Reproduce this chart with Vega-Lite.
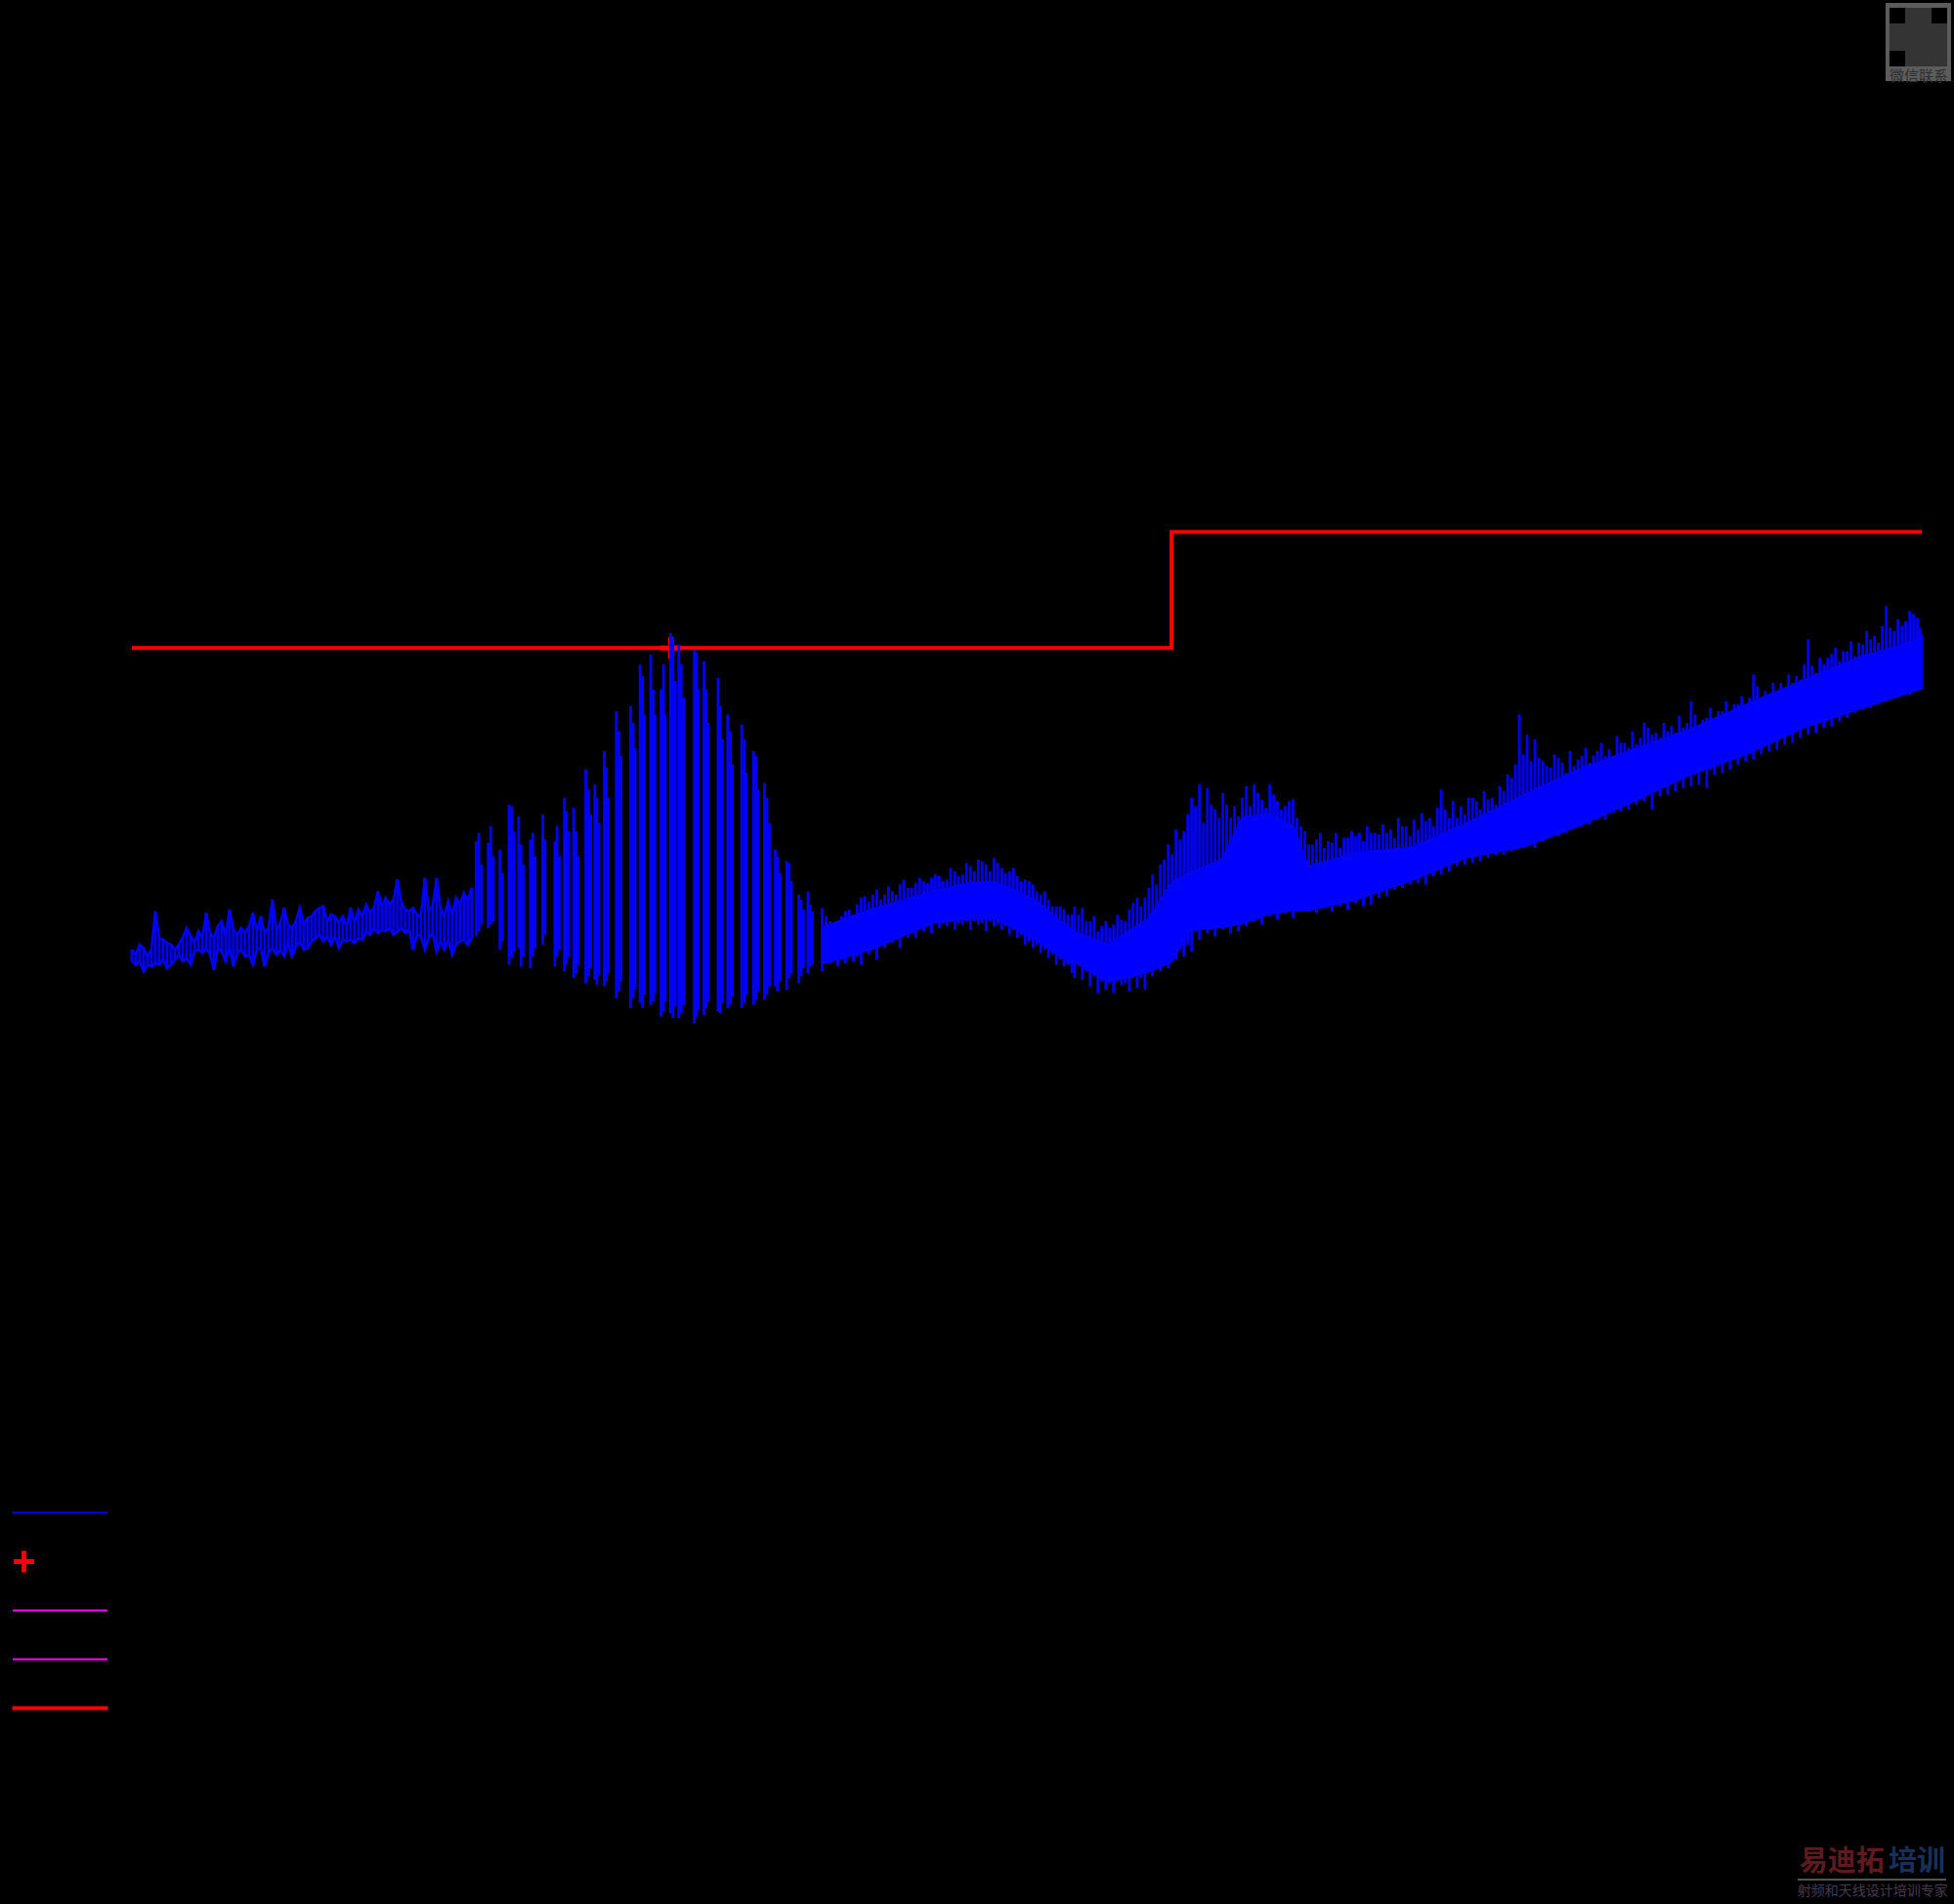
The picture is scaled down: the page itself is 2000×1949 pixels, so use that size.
{"$schema":"https://vega.github.io/schema/vega-lite/v6.json","autosize":{"type":"none"},"width":1832,"height":1195,"padding":{"left":135,"top":151,"right":33,"bottom":603},"background":"#000000","config":{"view":{"stroke":null},"font":"Liberation Sans","legend":{"labelFont":"Liberation Sans","labelFontSize":45,"labelColor":"#000000","labelLimit":1400,"padding":0,"rowPadding":4,"labelOffset":42}},"datasets":{"series":[{"series":"MES  tuz06a2_h"},{"series":"MES  tuz06a2_h_f"},{"series":"MES  tuz06a1_h_f"},{"series":"MES  tuz06b2_h_f"},{"series":"LIM  CISPR11 Class B        Field Strength QP Limit"}],"limit":[{"f":30,"level":30},{"f":230,"level":30},{"f":230,"level":36.95},{"f":1000,"level":36.95}],"final":[{"f":86.2,"level":30}],"band":[{"f":116,"lo":11,"hi":13.3},{"f":128,"lo":11.9,"hi":14.4},{"f":144.7,"lo":13.5,"hi":15.5},{"f":155.6,"lo":13.7,"hi":16},{"f":163,"lo":13.7,"hi":16},{"f":175.8,"lo":12.5,"hi":15},{"f":189,"lo":11,"hi":13.2},{"f":190.2,"lo":11.1,"hi":13.05},{"f":203,"lo":9.93,"hi":12.27},{"f":219.5,"lo":10.5,"hi":13.8},{"f":230,"lo":11.1,"hi":16},{"f":239,"lo":13.05,"hi":16.6},{"f":253.5,"lo":13.2,"hi":17.35},{"f":264,"lo":13.4,"hi":19.9},{"f":279,"lo":14,"hi":20.08},{"f":292.6,"lo":14.2,"hi":19.3},{"f":301,"lo":14.2,"hi":16.96},{"f":328,"lo":14.8,"hi":17.7},{"f":368,"lo":16,"hi":18.1},{"f":409,"lo":17.35,"hi":19.5},{"f":459,"lo":18.03,"hi":21.25},{"f":512,"lo":19.3,"hi":22.8},{"f":571,"lo":20.8,"hi":24},{"f":637,"lo":22.4,"hi":25.2},{"f":711,"lo":23.6,"hi":26.7},{"f":793,"lo":25.16,"hi":28.1},{"f":886,"lo":26.3,"hi":29.5},{"f":1000,"lo":27.5,"hi":30.6}],"trace":[{"f":30.00,"lo":11.2,"hi":11.9},{"f":30.23,"lo":11.0,"hi":11.6},{"f":30.46,"lo":11.2,"hi":12.2},{"f":30.70,"lo":10.6,"hi":12.0},{"f":30.93,"lo":11.0,"hi":11.5},{"f":31.17,"lo":10.9,"hi":11.9},{"f":31.41,"lo":11.1,"hi":14.2},{"f":31.65,"lo":11.0,"hi":12.6},{"f":31.89,"lo":11.3,"hi":12.5},{"f":32.14,"lo":10.8,"hi":12.3},{"f":32.39,"lo":11.0,"hi":12.2},{"f":32.64,"lo":11.3,"hi":11.9},{"f":32.89,"lo":11.6,"hi":12.2},{"f":33.14,"lo":11.2,"hi":12.6},{"f":33.40,"lo":11.4,"hi":13.2},{"f":33.66,"lo":11.0,"hi":12.7},{"f":33.92,"lo":11.8,"hi":12.3},{"f":34.18,"lo":11.9,"hi":13.0},{"f":34.44,"lo":11.7,"hi":12.6},{"f":34.70,"lo":12.0,"hi":14.1},{"f":34.96,"lo":11.6,"hi":12.9},{"f":35.23,"lo":10.7,"hi":12.6},{"f":35.50,"lo":12.0,"hi":13.3},{"f":35.77,"lo":11.8,"hi":13.6},{"f":36.05,"lo":11.2,"hi":12.7},{"f":36.32,"lo":12.1,"hi":14.3},{"f":36.60,"lo":10.9,"hi":13.1},{"f":36.88,"lo":11.7,"hi":12.8},{"f":37.17,"lo":11.9,"hi":13.2},{"f":37.45,"lo":11.5,"hi":12.9},{"f":37.74,"lo":11.6,"hi":13.3},{"f":38.03,"lo":11.0,"hi":14.1},{"f":38.32,"lo":11.9,"hi":13.0},{"f":38.62,"lo":12.0,"hi":13.9},{"f":38.91,"lo":10.9,"hi":12.9},{"f":39.21,"lo":11.7,"hi":13.2},{"f":39.51,"lo":12.0,"hi":14.9},{"f":39.82,"lo":11.6,"hi":13.0},{"f":40.12,"lo":11.9,"hi":13.5},{"f":40.43,"lo":11.5,"hi":14.4},{"f":40.74,"lo":12.3,"hi":13.4},{"f":41.05,"lo":11.5,"hi":13.2},{"f":41.37,"lo":12.1,"hi":13.6},{"f":41.69,"lo":12.4,"hi":14.4},{"f":42.01,"lo":11.9,"hi":13.4},{"f":42.33,"lo":12.0,"hi":13.8},{"f":42.66,"lo":12.4,"hi":13.9},{"f":42.98,"lo":12.6,"hi":14.2},{"f":43.31,"lo":12.8,"hi":14.4},{"f":43.65,"lo":12.4,"hi":14.5},{"f":43.98,"lo":12.7,"hi":13.6},{"f":44.32,"lo":12.2,"hi":14.0},{"f":44.66,"lo":12.7,"hi":13.9},{"f":45.00,"lo":12.0,"hi":13.5},{"f":45.35,"lo":12.5,"hi":13.9},{"f":45.70,"lo":12.4,"hi":13.3},{"f":46.05,"lo":12.5,"hi":14.4},{"f":46.40,"lo":12.3,"hi":13.5},{"f":46.76,"lo":12.6,"hi":14.3},{"f":47.12,"lo":12.5,"hi":13.9},{"f":47.48,"lo":13.0,"hi":14.6},{"f":47.84,"lo":12.8,"hi":14.1},{"f":48.21,"lo":13.2,"hi":14.4},{"f":48.58,"lo":12.9,"hi":15.4},{"f":48.96,"lo":13.1,"hi":14.5},{"f":49.33,"lo":13.0,"hi":15.0},{"f":49.71,"lo":13.2,"hi":14.6},{"f":50.09,"lo":12.8,"hi":14.9},{"f":50.48,"lo":13.0,"hi":16.1},{"f":50.87,"lo":13.2,"hi":14.7},{"f":51.26,"lo":12.9,"hi":14.3},{"f":51.65,"lo":13.1,"hi":14.2},{"f":52.05,"lo":11.9,"hi":14.4},{"f":52.45,"lo":12.8,"hi":14.0},{"f":52.85,"lo":12.7,"hi":13.9},{"f":53.26,"lo":11.9,"hi":16.2},{"f":53.67,"lo":12.6,"hi":14.3},{"f":54.08,"lo":12.9,"hi":14.5},{"f":54.50,"lo":11.8,"hi":16.2},{"f":54.91,"lo":12.4,"hi":14.4},{"f":55.33,"lo":11.9,"hi":13.9},{"f":55.76,"lo":12.5,"hi":14.8},{"f":56.19,"lo":11.6,"hi":14.0},{"f":56.62,"lo":12.2,"hi":15.0},{"f":57.05,"lo":12.4,"hi":14.6},{"f":57.49,"lo":12.5,"hi":15.3},{"f":57.93,"lo":12.2,"hi":14.8},{"f":58.38,"lo":12.6,"hi":15.6},{"f":58.9,"lo":12.7,"hi":18.4},{"f":59.2,"lo":13,"hi":18.9},{"f":59.5,"lo":13.4,"hi":17},{"f":60.3,"lo":13.2,"hi":18.3},{"f":60.6,"lo":13.4,"hi":19.3},{"f":60.9,"lo":13.6,"hi":17.5},{"f":61.7,"lo":11.9,"hi":17.9},{"f":62.0,"lo":12.4,"hi":16.5},{"f":62.8,"lo":11,"hi":20.6},{"f":63.1,"lo":11.4,"hi":20.5},{"f":63.4,"lo":11.8,"hi":19},{"f":64,"lo":12,"hi":19.9},{"f":64.3,"lo":10.9,"hi":18.2},{"f":64.6,"lo":11.5,"hi":17},{"f":65.5,"lo":10.8,"hi":18.5},{"f":65.8,"lo":11.5,"hi":18.9},{"f":66.1,"lo":12,"hi":17.5},{"f":67.1,"lo":12.2,"hi":20},{"f":67.4,"lo":12.8,"hi":18.5},{"f":68.7,"lo":10.9,"hi":18.4},{"f":69,"lo":11.5,"hi":19.3},{"f":69.3,"lo":11.9,"hi":17.5},{"f":70,"lo":10.6,"hi":21},{"f":70.3,"lo":11,"hi":20.2},{"f":70.6,"lo":11.5,"hi":19},{"f":71.3,"lo":10.2,"hi":20.4},{"f":71.6,"lo":10.5,"hi":19},{"f":71.9,"lo":11,"hi":17.5},{"f":73,"lo":9.9,"hi":22.7},{"f":73.4,"lo":10.3,"hi":21.5},{"f":73.7,"lo":10.8,"hi":20},{"f":74.3,"lo":10.1,"hi":21.8},{"f":74.6,"lo":9.8,"hi":21},{"f":74.9,"lo":10.4,"hi":19.5},{"f":75.7,"lo":9.7,"hi":23.8},{"f":76,"lo":10,"hi":22.8},{"f":76.3,"lo":10.5,"hi":21},{"f":77.5,"lo":9,"hi":26.2},{"f":77.9,"lo":9.4,"hi":25},{"f":78.2,"lo":10,"hi":23.5},{"f":79.7,"lo":8.4,"hi":26.5},{"f":80.1,"lo":9,"hi":25.5},{"f":80.4,"lo":9.5,"hi":24},{"f":81.2,"lo":8.7,"hi":29},{"f":81.6,"lo":8.4,"hi":28.3},{"f":81.9,"lo":9.2,"hi":26},{"f":82.9,"lo":8.6,"hi":29.6},{"f":83.3,"lo":8.8,"hi":27.5},{"f":83.6,"lo":9.3,"hi":26},{"f":84.6,"lo":7.9,"hi":27.5},{"f":85,"lo":8.2,"hi":29},{"f":85.3,"lo":8.8,"hi":26},{"f":86.2,"lo":8.1,"hi":30.9},{"f":86.6,"lo":7.8,"hi":30.6},{"f":87.0,"lo":8.5,"hi":28},{"f":87.6,"lo":7.8,"hi":30.2},{"f":88,"lo":8.1,"hi":29},{"f":88.4,"lo":8.6,"hi":27},{"f":90.3,"lo":7.5,"hi":29.9},{"f":90.7,"lo":7.9,"hi":29.7},{"f":91.0,"lo":8.3,"hi":27.5},{"f":92,"lo":8,"hi":29.2},{"f":92.4,"lo":8.4,"hi":27.5},{"f":92.8,"lo":8.8,"hi":25.5},{"f":94.6,"lo":8.2,"hi":28.2},{"f":95,"lo":8.1,"hi":26.5},{"f":95.4,"lo":8.7,"hi":24.5},{"f":96.4,"lo":8.4,"hi":26},{"f":96.9,"lo":8.6,"hi":25},{"f":97.3,"lo":9.1,"hi":23},{"f":99.1,"lo":8.4,"hi":25.4},{"f":99.6,"lo":8.7,"hi":24.5},{"f":100,"lo":9.2,"hi":22.5},{"f":101.4,"lo":8.6,"hi":23.8},{"f":101.9,"lo":8.9,"hi":23.5},{"f":102.3,"lo":9.4,"hi":21.5},{"f":103.6,"lo":8.9,"hi":21.9},{"f":104.1,"lo":9.2,"hi":21},{"f":104.6,"lo":9.7,"hi":19.5},{"f":105.8,"lo":9.7,"hi":17.9},{"f":106.3,"lo":9.4,"hi":17.5},{"f":106.8,"lo":10,"hi":16.5},{"f":108.2,"lo":9.5,"hi":17.2},{"f":108.7,"lo":10.2,"hi":17.1},{"f":109.2,"lo":10.5,"hi":16},{"f":110.8,"lo":9.9,"hi":15.2},{"f":111.3,"lo":10.3,"hi":14.9},{"f":111.8,"lo":10.8,"hi":14.3},{"f":112.8,"lo":10.5,"hi":15.4},{"f":113.3,"lo":10.9,"hi":14.6},{"f":113.8,"lo":11,"hi":14.2},{"f":116.0,"lo":10.6,"hi":14.4},{"f":117.8,"lo":11.1,"hi":13.6},{"f":119.6,"lo":10.9,"hi":13.4},{"f":121.4,"lo":11.1,"hi":14.2},{"f":123.3,"lo":11.2,"hi":14.0},{"f":125.2,"lo":11.0,"hi":15.0},{"f":127.1,"lo":11.6,"hi":14.8},{"f":129.1,"lo":11.3,"hi":15.5},{"f":131.1,"lo":12.0,"hi":15.2},{"f":133.1,"lo":12.3,"hi":15.4},{"f":135.1,"lo":12.0,"hi":15.8},{"f":137.2,"lo":12.6,"hi":15.6},{"f":139.3,"lo":12.6,"hi":15.9},{"f":141.5,"lo":13.0,"hi":16.0},{"f":143.7,"lo":12.9,"hi":16.2},{"f":145.9,"lo":13.2,"hi":16.3},{"f":148.1,"lo":13.3,"hi":16.1},{"f":150.4,"lo":13.1,"hi":16.6},{"f":152.7,"lo":13.4,"hi":16.4},{"f":155.1,"lo":13.1,"hi":16.9},{"f":157.5,"lo":13.4,"hi":17.3},{"f":159.9,"lo":13.0,"hi":17.0},{"f":162.4,"lo":13.3,"hi":17.4},{"f":164.9,"lo":13.1,"hi":16.8},{"f":167.4,"lo":12.8,"hi":16.6},{"f":170.0,"lo":12.6,"hi":16.3},{"f":172.6,"lo":12.2,"hi":16.1},{"f":175.3,"lo":12.0,"hi":15.8},{"f":178.0,"lo":11.7,"hi":15.2},{"f":180.7,"lo":11.4,"hi":14.9},{"f":183.5,"lo":11.0,"hi":14.5},{"f":186.3,"lo":10.9,"hi":14.3},{"f":189.2,"lo":10.5,"hi":14.0},{"f":190.2,"lo":10.2,"hi":14.5},{"f":193.1,"lo":10.1,"hi":14.4},{"f":196.1,"lo":9.7,"hi":13.6},{"f":199.1,"lo":9.3,"hi":13.0},{"f":202.2,"lo":9.5,"hi":13.6},{"f":205.3,"lo":9.3,"hi":13.4},{"f":208.5,"lo":9.8,"hi":13.7},{"f":211.7,"lo":9.4,"hi":14.3},{"f":215.0,"lo":9.6,"hi":15.0},{"f":218.3,"lo":9.5,"hi":15.0},{"f":221.6,"lo":10.3,"hi":16.4},{"f":225.0,"lo":10.6,"hi":17.0},{"f":228.5,"lo":10.8,"hi":18.2},{"f":232.0,"lo":11.3,"hi":19.1},{"f":235.6,"lo":11.5,"hi":19.0},{"f":239.2,"lo":11.8,"hi":21.0},{"f":242.9,"lo":12.5,"hi":21.8},{"f":246.7,"lo":12.9,"hi":21.6},{"f":250.5,"lo":12.7,"hi":20.3},{"f":254.3,"lo":13.1,"hi":21.3},{"f":258.2,"lo":12.9,"hi":19.8},{"f":262.2,"lo":13.0,"hi":19.9},{"f":266.3,"lo":13.3,"hi":21.7},{"f":270.4,"lo":13.6,"hi":21.8},{"f":274.5,"lo":13.4,"hi":20.9},{"f":278.8,"lo":13.9,"hi":21.8},{"f":283.0,"lo":13.7,"hi":20.8},{"f":287.4,"lo":14.1,"hi":20.5},{"f":291.8,"lo":13.8,"hi":20.9},{"f":296.3,"lo":14.2,"hi":19.3},{"f":300.9,"lo":14.2,"hi":18.2},{"f":305.5,"lo":14.1,"hi":18.5},{"f":310.2,"lo":14.4,"hi":18.0},{"f":315.0,"lo":14.2,"hi":18.3},{"f":319.9,"lo":14.5,"hi":18.0},{"f":324.8,"lo":14.3,"hi":18.6},{"f":329.8,"lo":14.7,"hi":18.7},{"f":334.9,"lo":14.5,"hi":18.4},{"f":340.0,"lo":14.6,"hi":18.9},{"f":345.3,"lo":15.0,"hi":18.8},{"f":350.6,"lo":15.1,"hi":18.9},{"f":356.0,"lo":15.5,"hi":18.6},{"f":361.5,"lo":15.6,"hi":19.3},{"f":367.0,"lo":15.8,"hi":18.7},{"f":372.7,"lo":15.9,"hi":19.1},{"f":378.4,"lo":15.8,"hi":19.6},{"f":384.2,"lo":16.3,"hi":19.3},{"f":390.1,"lo":16.4,"hi":21.5},{"f":396.2,"lo":16.6,"hi":19.8},{"f":402.3,"lo":16.9,"hi":19.8},{"f":408.5,"lo":17.0,"hi":20.0},{"f":414.8,"lo":17.1,"hi":21.0},{"f":421.1,"lo":17.2,"hi":20.3},{"f":427.6,"lo":17.4,"hi":20.9},{"f":434.2,"lo":17.6,"hi":20.6},{"f":440.9,"lo":17.6,"hi":21.4},{"f":447.7,"lo":17.8,"hi":22.2},{"f":454.6,"lo":18.0,"hi":26.0},{"f":461.6,"lo":18.2,"hi":24.8},{"f":468.7,"lo":18.0,"hi":24.5},{"f":476.0,"lo":18.4,"hi":23.2},{"f":483.3,"lo":18.6,"hi":22.8},{"f":490.7,"lo":18.7,"hi":23.4},{"f":498.3,"lo":18.9,"hi":22.5},{"f":506.0,"lo":19.2,"hi":22.9},{"f":513.8,"lo":19.3,"hi":23.5},{"f":521.7,"lo":19.4,"hi":23.1},{"f":529.7,"lo":19.7,"hi":23.8},{"f":537.9,"lo":19.7,"hi":23.5},{"f":546.2,"lo":20.1,"hi":23.4},{"f":554.6,"lo":20.2,"hi":24.3},{"f":563.1,"lo":20.3,"hi":24.0},{"f":571.8,"lo":20.6,"hi":24.2},{"f":580.6,"lo":20.8,"hi":25.5},{"f":589.6,"lo":20.3,"hi":24.8},{"f":598.7,"lo":21.1,"hi":24.6},{"f":607.9,"lo":21.2,"hi":25.0},{"f":617.2,"lo":21.4,"hi":24.9},{"f":626.7,"lo":21.6,"hi":25.2},{"f":636.4,"lo":21.7,"hi":26.8},{"f":646.2,"lo":21.8,"hi":25.3},{"f":656.2,"lo":21.6,"hi":25.8},{"f":666.3,"lo":22.4,"hi":25.7},{"f":676.6,"lo":22.5,"hi":26.2},{"f":687.0,"lo":22.7,"hi":26.1},{"f":697.6,"lo":23.0,"hi":26.6},{"f":708.3,"lo":23.2,"hi":26.5},{"f":719.2,"lo":23.3,"hi":28.4},{"f":730.3,"lo":23.6,"hi":26.7},{"f":741.6,"lo":23.8,"hi":27.2},{"f":753.0,"lo":23.9,"hi":27.4},{"f":764.6,"lo":24.2,"hi":27.6},{"f":776.4,"lo":24.3,"hi":27.9},{"f":788.3,"lo":24.6,"hi":28.1},{"f":800.5,"lo":24.8,"hi":30.5},{"f":812.8,"lo":24.9,"hi":28.5},{"f":825.4,"lo":25.2,"hi":29.0},{"f":838.1,"lo":25.3,"hi":29.6},{"f":851.0,"lo":25.6,"hi":29.2},{"f":864.1,"lo":25.8,"hi":29.8},{"f":877.4,"lo":26.1,"hi":29.5},{"f":891.0,"lo":26.3,"hi":30.2},{"f":904.7,"lo":26.4,"hi":30.5},{"f":918.6,"lo":26.6,"hi":30.3},{"f":932.8,"lo":26.8,"hi":32.5},{"f":947.2,"lo":27.0,"hi":31.0},{"f":961.8,"lo":27.2,"hi":31.3},{"f":976.6,"lo":27.2,"hi":32.2},{"f":991.7,"lo":27.5,"hi":31.8},{"f":999.5,"lo":27.5,"hi":30.8},{"f":116.9,"lo":11.4,"hi":13.9},{"f":118.7,"lo":11.3,"hi":13.5},{"f":120.5,"lo":11.3,"hi":13.9},{"f":122.3,"lo":11.5,"hi":14.3},{"f":124.2,"lo":11.5,"hi":14.6},{"f":126.1,"lo":11.8,"hi":15.1},{"f":128.1,"lo":11.9,"hi":15.2},{"f":130.1,"lo":12.2,"hi":14.9},{"f":132.1,"lo":12.6,"hi":15.7},{"f":134.1,"lo":12.5,"hi":15.2},{"f":136.1,"lo":12.9,"hi":16.1},{"f":138.2,"lo":12.9,"hi":15.6},{"f":140.4,"lo":13.2,"hi":16.2},{"f":142.6,"lo":13.3,"hi":15.9},{"f":144.8,"lo":13.5,"hi":16.4},{"f":147.0,"lo":13.5,"hi":16},{"f":149.2,"lo":13.6,"hi":16.8},{"f":151.5,"lo":13.5,"hi":16.3},{"f":153.9,"lo":13.6,"hi":17.1},{"f":156.3,"lo":13.6,"hi":16.6},{"f":158.7,"lo":13.5,"hi":17.2},{"f":161.1,"lo":13.6,"hi":16.6},{"f":163.6,"lo":13.4,"hi":17.1},{"f":166.1,"lo":13.3,"hi":16.5},{"f":168.7,"lo":13.1,"hi":16.8},{"f":171.3,"lo":12.8,"hi":16},{"f":174.0,"lo":12.4,"hi":16},{"f":176.6,"lo":12.2,"hi":15.4},{"f":179.4,"lo":11.9,"hi":15.4},{"f":182.1,"lo":11.6,"hi":14.5},{"f":184.9,"lo":11.3,"hi":14.5},{"f":187.7,"lo":11.0,"hi":14},{"f":191.7,"lo":11,"hi":14},{"f":194.6,"lo":10.6,"hi":13.6},{"f":197.6,"lo":10.3,"hi":13.9},{"f":200.6,"lo":10,"hi":13.3},{"f":203.7,"lo":9.9,"hi":13.2},{"f":206.9,"lo":10,"hi":14},{"f":210.1,"lo":9.9,"hi":13.6},{"f":213.3,"lo":10.2,"hi":14.7},{"f":216.6,"lo":10.2,"hi":14.5},{"f":220.0,"lo":10.7,"hi":15.6},{"f":223.3,"lo":11,"hi":15.8},{"f":226.7,"lo":11.2,"hi":17.3},{"f":230.2,"lo":11.7,"hi":17.6},{"f":233.8,"lo":11.9,"hi":18.5},{"f":237.4,"lo":12.2,"hi":20},{"f":241.0,"lo":13,"hi":20.5},{"f":244.8,"lo":13.2,"hi":19.5},{"f":248.6,"lo":13.3,"hi":20.6},{"f":252.4,"lo":13.4,"hi":19.8},{"f":256.2,"lo":13.6,"hi":20.6},{"f":260.2,"lo":13.4,"hi":20.5},{"f":264.2,"lo":13.7,"hi":21},{"f":268.3,"lo":13.8,"hi":20.5},{"f":272.4,"lo":14,"hi":21.3},{"f":276.6,"lo":14.2,"hi":20.4},{"f":280.9,"lo":14,"hi":21.2},{"f":285.2,"lo":14.4,"hi":20.3},{"f":289.6,"lo":14.3,"hi":20.8},{"f":294.0,"lo":14.6,"hi":19.8},{"f":298.6,"lo":14.5,"hi":19},{"f":303.2,"lo":14.6,"hi":18.2},{"f":307.8,"lo":14.5,"hi":18.9},{"f":312.6,"lo":14.8,"hi":18.4},{"f":317.4,"lo":14.7,"hi":18.9},{"f":322.4,"lo":15,"hi":18.6},{"f":327.3,"lo":15,"hi":19},{"f":332.3,"lo":15.1,"hi":18.9},{"f":337.4,"lo":15.2,"hi":19.3},{"f":342.6,"lo":15.4,"hi":18.9},{"f":348.0,"lo":15.6,"hi":19.4},{"f":353.3,"lo":15.7,"hi":19.1},{"f":358.7,"lo":16,"hi":19.8},{"f":364.2,"lo":16.1,"hi":19.3},{"f":369.8,"lo":16.4,"hi":19.7},{"f":375.5,"lo":16.3,"hi":20.1},{"f":381.3,"lo":16.7,"hi":19.8},{"f":387.1,"lo":16.9,"hi":20.4},{"f":393.1,"lo":17.1,"hi":20.3},{"f":399.2,"lo":17.4,"hi":20.8},{"f":405.4,"lo":17.3,"hi":20.5},{"f":411.6,"lo":17.6,"hi":21},{"f":418.0,"lo":17.7,"hi":20.8},{"f":424.3,"lo":17.9,"hi":21.4},{"f":430.9,"lo":18,"hi":21},{"f":437.5,"lo":18.2,"hi":21.7},{"f":444.3,"lo":18.3,"hi":22.4},{"f":451.1,"lo":18.4,"hi":23},{"f":458.1,"lo":18.6,"hi":23.6},{"f":465.1,"lo":18.8,"hi":23.2},{"f":472.3,"lo":18.9,"hi":23.4},{"f":479.6,"lo":19,"hi":22.9},{"f":487.0,"lo":19.2,"hi":23.6},{"f":494.5,"lo":19.4,"hi":23.1},{"f":502.1,"lo":19.6,"hi":23.8},{"f":509.9,"lo":19.8,"hi":23.3},{"f":517.7,"lo":19.9,"hi":24},{"f":525.7,"lo":20.1,"hi":23.5},{"f":533.8,"lo":20.3,"hi":24.3},{"f":542.0,"lo":20.5,"hi":23.9},{"f":550.4,"lo":20.7,"hi":24.7},{"f":558.8,"lo":20.8,"hi":24.3},{"f":567.4,"lo":21,"hi":25},{"f":576.2,"lo":21.2,"hi":24.6},{"f":585.1,"lo":21.4,"hi":25.2},{"f":594.1,"lo":21.5,"hi":24.9},{"f":603.3,"lo":21.7,"hi":25.5},{"f":612.5,"lo":21.9,"hi":25.3},{"f":621.9,"lo":22,"hi":25.9},{"f":631.5,"lo":22.3,"hi":25.5},{"f":641.3,"lo":22.4,"hi":26},{"f":651.2,"lo":22.6,"hi":25.7},{"f":661.2,"lo":22.7,"hi":26.4},{"f":671.4,"lo":22.9,"hi":26.2},{"f":681.8,"lo":23.2,"hi":26.8},{"f":692.3,"lo":23.4,"hi":26.6},{"f":702.9,"lo":23.6,"hi":27.1},{"f":713.7,"lo":23.8,"hi":27},{"f":724.7,"lo":24,"hi":27.7},{"f":735.9,"lo":24.2,"hi":27.4},{"f":747.3,"lo":24.4,"hi":27.9},{"f":758.8,"lo":24.6,"hi":27.9},{"f":770.5,"lo":24.8,"hi":28.4},{"f":782.3,"lo":25,"hi":28.3},{"f":794.4,"lo":25.2,"hi":29},{"f":806.6,"lo":25.4,"hi":28.9},{"f":819.1,"lo":25.6,"hi":29.4},{"f":831.7,"lo":25.8,"hi":29.4},{"f":844.5,"lo":26,"hi":30},{"f":857.5,"lo":26.2,"hi":29.8},{"f":870.7,"lo":26.4,"hi":30.4},{"f":884.2,"lo":26.6,"hi":30.3},{"f":897.8,"lo":26.8,"hi":31},{"f":911.6,"lo":27,"hi":30.7},{"f":925.7,"lo":27.1,"hi":31.3},{"f":940.0,"lo":27.3,"hi":31.2},{"f":954.5,"lo":27.5,"hi":31.7},{"f":969.2,"lo":27.6,"hi":31.6},{"f":984.1,"lo":27.8,"hi":32},{"f":996,"lo":27.8,"hi":31.2}]},"layer":[{"data":{"name":"limit"},"mark":{"type":"line","color":"#ff0000","strokeWidth":4,"clip":false},"encoding":{"x":{"field":"f","type":"quantitative","scale":{"type":"log","domain":[30,1000],"nice":false},"axis":{"values":[30,50,70,100,200,300,500,700,1000],"labelExpr":"datum.value==1000?'1G':datum.value+'M'","title":"Frequency [Hz]","titleFont":"Liberation Sans","titleFontSize":45,"titleFontWeight":"normal","titleColor":"#000000","titleX":761,"titleY":107,"titleAlign":"center","titleBaseline":"alphabetic","labelFont":"Liberation Sans","labelFontSize":45,"labelColor":"#000000","labelAngle":0,"labelFlush":true,"labelOverlap":false,"labelOffset":-12,"labelPadding":18,"ticks":false,"domain":false,"grid":false}},"y":{"field":"level","type":"quantitative","scale":{"domain":[-10,60],"nice":false,"zero":false},"axis":{"values":[-10,0,10,20,30,40,50,60],"title":"Level [dBµV/m]","titleFont":"Liberation Sans","titleFontSize":45,"titleFontWeight":"normal","titleColor":"#000000","titleAngle":0,"titleAlign":"left","titleBaseline":"alphabetic","titleX":-65,"titleY":-71,"labelFont":"Liberation Sans","labelFontSize":45,"labelColor":"#000000","labelPadding":32,"ticks":false,"domain":false,"grid":false}}}},{"data":{"name":"final"},"mark":{"type":"point","shape":"M-1,0H1M0,-1V1","filled":false,"color":"#ff0000","size":484,"strokeWidth":5,"opacity":1},"encoding":{"x":{"field":"f","type":"quantitative","axis":null},"y":{"field":"level","type":"quantitative","axis":null}}},{"data":{"name":"band"},"mark":{"type":"area","color":"#0000ff","opacity":1},"encoding":{"x":{"field":"f","type":"quantitative","axis":null},"y":{"field":"lo","type":"quantitative","axis":null},"y2":{"field":"hi"}}},{"data":{"name":"trace"},"transform":[{"filter":"datum.f<58.5"}],"mark":{"type":"line","color":"#0000ff","strokeWidth":2.5},"encoding":{"x":{"field":"f","type":"quantitative","axis":null},"y":{"field":"lo","type":"quantitative","axis":null}}},{"data":{"name":"trace"},"transform":[{"filter":"datum.f<58.5"}],"mark":{"type":"line","color":"#0000ff","strokeWidth":2.5},"encoding":{"x":{"field":"f","type":"quantitative","axis":null},"y":{"field":"hi","type":"quantitative","axis":null}}},{"data":{"name":"trace"},"mark":{"type":"rule","color":"#0000ff","strokeWidth":2.8},"encoding":{"x":{"field":"f","type":"quantitative","axis":null},"y":{"field":"lo","type":"quantitative","axis":null},"y2":{"field":"hi"}}},{"data":{"name":"series"},"mark":{"type":"point","filled":false,"opacity":1},"encoding":{"x":{"field":"f","type":"quantitative","axis":null},"y":{"field":"level","type":"quantitative","axis":null},"stroke":{"field":"series","type":"nominal","sort":null,"scale":{"domain":["MES  tuz06a2_h","MES  tuz06a2_h_f","MES  tuz06a1_h_f","MES  tuz06b2_h_f","LIM  CISPR11 Class B        Field Strength QP Limit"],"range":["#0000ff","#ff0000","#ff00ff","#ff00ff","#ff0000"]},"legend":{"title":null,"orient":"none","legendX":-96,"legendY":1375,"symbolSize":1600,"labelFont":"Liberation Sans","labelFontSize":45,"labelLimit":1400,"labelOffset":42,"rowPadding":4,"padding":0}},"shape":{"field":"series","type":"nominal","sort":null,"scale":{"domain":["MES  tuz06a2_h","MES  tuz06a2_h_f","MES  tuz06a1_h_f","MES  tuz06b2_h_f","LIM  CISPR11 Class B        Field Strength QP Limit"],"range":["M-2.425,0H2.425","M-2.37,0H-1.32M-1.845,-0.55V0.55","M-2.425,0H2.425","M-2.425,0H2.425","M-2.45,0H2.45"]},"legend":{"title":null,"orient":"none","legendX":-96,"legendY":1375,"symbolSize":1600,"labelFont":"Liberation Sans","labelFontSize":45,"labelLimit":1400,"labelOffset":42,"rowPadding":4,"padding":0}},"strokeWidth":{"field":"series","type":"nominal","sort":null,"scale":{"type":"ordinal","domain":["MES  tuz06a2_h","MES  tuz06a2_h_f","MES  tuz06a1_h_f","MES  tuz06b2_h_f","LIM  CISPR11 Class B        Field Strength QP Limit"],"range":[2,5,2,2,4]},"legend":{"title":null,"orient":"none","legendX":-96,"legendY":1375,"symbolSize":1600,"labelFont":"Liberation Sans","labelFontSize":45,"labelLimit":1400,"labelOffset":42,"rowPadding":4,"padding":0}}}},{"data":{"values":[{"f":931.6,"f2":1059,"a":68.67,"b":63.98}]},"mark":{"type":"rect","color":"#5c5c5c"},"encoding":{"x":{"field":"f","type":"quantitative","axis":null},"x2":{"field":"f2"},"y":{"field":"a","type":"quantitative","axis":null},"y2":{"field":"b"}}},{"data":{"values":[{"f":938.7,"f2":1051,"a":68.38,"b":64.86}]},"mark":{"type":"rect","color":"#343434"},"encoding":{"x":{"field":"f","type":"quantitative","axis":null},"x2":{"field":"f2"},"y":{"field":"a","type":"quantitative","axis":null},"y2":{"field":"b"}}},{"data":{"values":[{"f":938.7,"f2":967.9,"a":68.38,"b":67.44},{"f":1019.5,"f2":1051,"a":68.38,"b":67.44},{"f":938.7,"f2":967.9,"a":65.8,"b":64.86}]},"mark":{"type":"rect","color":"#000000"},"encoding":{"x":{"field":"f","type":"quantitative","axis":null},"x2":{"field":"f2"},"y":{"field":"a","type":"quantitative","axis":null},"y2":{"field":"b"}}},{"data":{"values":[{"f":994.5,"level":64.3,"t":"微信联系"}]},"mark":{"type":"text","font":"Noto Sans CJK SC","fontSize":15,"color":"#2e2e2e","align":"center","baseline":"middle"},"encoding":{"x":{"field":"f","type":"quantitative","axis":null},"y":{"field":"level","type":"quantitative","axis":null},"text":{"field":"t"}}},{"data":{"values":[{"f":787,"level":-42.8,"t":"易迪拓"}]},"mark":{"type":"text","font":"Noto Sans CJK SC","fontSize":29,"fontWeight":"bold","color":"#5e1a1e","align":"left","baseline":"middle"},"encoding":{"x":{"field":"f","type":"quantitative","axis":null},"y":{"field":"level","type":"quantitative","axis":null},"text":{"field":"t"}}},{"data":{"values":[{"f":937,"level":-42.8,"t":"培训"}]},"mark":{"type":"text","font":"Noto Sans CJK SC","fontSize":29,"fontWeight":"bold","color":"#16305a","align":"left","baseline":"middle"},"encoding":{"x":{"field":"f","type":"quantitative","axis":null},"y":{"field":"level","type":"quantitative","axis":null},"text":{"field":"t"}}},{"data":{"values":[{"f":784,"f2":1049,"a":-43.8,"b":-43.92}]},"mark":{"type":"rect","color":"#555555"},"encoding":{"x":{"field":"f","type":"quantitative","axis":null},"x2":{"field":"f2"},"y":{"field":"a","type":"quantitative","axis":null},"y2":{"field":"b"}}},{"data":{"values":[{"f":784,"level":-44.56,"t":"射频和天线设计培训专家"}]},"mark":{"type":"text","font":"Noto Sans CJK SC","fontSize":14,"color":"#453a4c","align":"left","baseline":"middle"},"encoding":{"x":{"field":"f","type":"quantitative","axis":null},"y":{"field":"level","type":"quantitative","axis":null},"text":{"field":"t"}}}]}
